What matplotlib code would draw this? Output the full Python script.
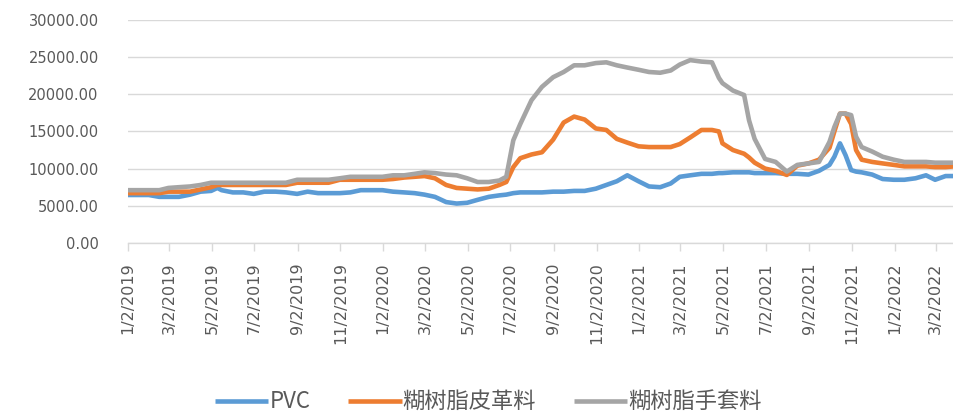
import numpy as np
import pandas as pd
import matplotlib
matplotlib.use("Agg")
import matplotlib.pyplot as plt
from matplotlib import font_manager

# datos
fechas = ["2019-01-02", "2019-01-16", "2019-02-01", "2019-02-16", "2019-03-01", "2019-03-16",
          "2019-04-01", "2019-04-16", "2019-05-01", "2019-05-10", "2019-05-16", "2019-06-01",
          "2019-06-16", "2019-07-01", "2019-07-16", "2019-08-01", "2019-08-16", "2019-09-01",
          "2019-09-16", "2019-10-01", "2019-10-16", "2019-11-01", "2019-11-16", "2019-12-01",
          "2019-12-16", "2020-01-01", "2020-01-16", "2020-02-01", "2020-02-16", "2020-03-01",
          "2020-03-16", "2020-04-01", "2020-04-16", "2020-05-01", "2020-05-16", "2020-06-01",
          "2020-06-16", "2020-06-26", "2020-07-06", "2020-07-16", "2020-08-01", "2020-08-16",
          "2020-09-01", "2020-09-16", "2020-10-01", "2020-10-16", "2020-11-01", "2020-11-16",
          "2020-12-01", "2020-12-16", "2021-01-01", "2021-01-16", "2021-02-01", "2021-02-16",
          "2021-03-01", "2021-03-16", "2021-04-01", "2021-04-16", "2021-04-26", "2021-05-01",
          "2021-05-16", "2021-06-01", "2021-06-08", "2021-06-16", "2021-07-01", "2021-07-16",
          "2021-08-01", "2021-08-16", "2021-09-01", "2021-09-16", "2021-10-01", "2021-10-08",
          "2021-10-16", "2021-10-24", "2021-11-01", "2021-11-08", "2021-11-16", "2021-12-01",
          "2021-12-16", "2022-01-01", "2022-01-16", "2022-02-01", "2022-02-16", "2022-03-01",
          "2022-03-16", "2022-03-28"]

pvc = [6450, 6450, 6450, 6200, 6200, 6200, 6500, 6900, 7000, 7400, 7100, 6800,
       6800, 6600, 6900, 6900, 6800, 6600, 6900, 6700, 6700, 6700, 6800, 7100,
       7100, 7100, 6900, 6800, 6700, 6500, 6200, 5500, 5300, 5400, 5800, 6200,
       6400, 6500, 6700, 6800, 6800, 6800, 6900, 6900, 7000, 7000, 7300, 7800,
       8300, 9100, 8300, 7600, 7500, 8000, 8900, 9100, 9300, 9300, 9400, 9400,
       9500, 9500, 9500, 9400, 9400, 9400, 9300, 9300, 9200, 9700, 10500, 11600,
       13400, 11800, 9800, 9600, 9500, 9200, 8600, 8500, 8500, 8700, 9100, 8500,
       9000, 9000]

piel = [6700, 6700, 6700, 6700, 6900, 6900, 6900, 7200, 7500, 7800, 7800, 7800,
        7800, 7800, 7800, 7800, 7800, 8100, 8100, 8100, 8100, 8500, 8500, 8500,
        8500, 8500, 8600, 8800, 8900, 9000, 8700, 7800, 7400, 7300, 7200, 7300,
        7800, 8200, 10200, 11400, 11900, 12200, 13900, 16200, 17000, 16600, 15400, 15200,
        14000, 13500, 13000, 12900, 12900, 12900, 13300, 14200, 15200, 15200, 15000, 13400,
        12500, 12000, 11500, 10800, 10000, 9700, 9150, 10400, 10700, 11200, 12800, 15000,
        17400, 17400, 16000, 12500, 11200, 10900, 10700, 10500, 10300, 10300, 10300, 10200,
        10200, 10300]

guante = [7100, 7100, 7100, 7100, 7400, 7500, 7600, 7800, 8100, 8100, 8100, 8100,
          8100, 8100, 8100, 8100, 8100, 8500, 8500, 8500, 8500, 8700, 8900, 8900,
          8900, 8900, 9100, 9100, 9300, 9500, 9400, 9200, 9100, 8700, 8200, 8200,
          8400, 8900, 13800, 16000, 19200, 21000, 22300, 23000, 23900, 23900, 24200, 24300,
          23900, 23600, 23300, 23000, 22900, 23200, 24000, 24600, 24400, 24300, 22200, 21500,
          20500, 19900, 16500, 14000, 11300, 10900, 9600, 10500, 10700, 10900, 13600, 15600,
          17400, 17400, 17200, 14300, 12900, 12300, 11600, 11200, 10900, 10900, 10900, 10800,
          10800, 10800]

nombres = ["PVC", "糊树脂皮革料", "糊树脂手套料"]
colores = ["#5B9BD5", "#ED7D31", "#A5A5A5"]

ticks_x = ["2019-01-02", "2019-03-02", "2019-05-02", "2019-07-02", "2019-09-02", "2019-11-02",
           "2020-01-02", "2020-03-02", "2020-05-02", "2020-07-02", "2020-09-02", "2020-11-02",
           "2021-01-02", "2021-03-02", "2021-05-02", "2021-07-02", "2021-09-02", "2021-11-02",
           "2022-01-02", "2022-03-02"]
ticks_y = [0, 5000, 10000, 15000, 20000, 25000, 30000]

x = pd.to_datetime(fechas)
tx = pd.to_datetime(ticks_x)

# fuente estrecha para el eje y si existe
nombres_fuentes = {f.name for f in font_manager.fontManager.ttflist}
if "Liberation Sans Narrow" in nombres_fuentes:
    fuente_y, tam_y = "Liberation Sans Narrow", 14
else:
    fuente_y, tam_y = "DejaVu Sans", 10.5

fig = plt.figure(figsize=(9.54, 4.16), dpi=100)
ax = fig.add_axes([0.134, 0.416, 0.866, 0.536])

for serie, nombre, color in zip([pvc, piel, guante], nombres, colores):
    ax.plot(x, serie, color=color, lw=3.3, label=nombre, solid_capstyle="butt")

ax.set_xlim(x[0], x[-1])
ax.set_ylim(0, 30000)

# cuadricula
ax.set_yticks(ticks_y)
ax.grid(axis="y", color="#D9D9D9", lw=1)
ax.set_axisbelow(True)
for s in ["top", "right", "left"]:
    ax.spines[s].set_visible(False)
ax.spines["bottom"].set_color("#D9D9D9")
ax.spines["bottom"].set_linewidth(1)

ax.set_yticklabels([f"{v:.2f}" for v in ticks_y], family=fuente_y, fontsize=tam_y, color="#595959")
ax.tick_params(axis="y", length=0, pad=21)

ax.set_xticks(tx)
ax.set_xticklabels([f"{d.month}/{d.day}/{d.year}" for d in tx], rotation=90,
                   fontsize=11.5, color="#595959")
ax.tick_params(axis="x", length=6, color="#D9D9D9", width=1, pad=8)

fig.legend(loc="center", bbox_to_anchor=(0.512, 0.034), ncol=3, frameon=False,
           prop={"family": ["Noto Sans CJK SC", "DejaVu Sans"], "size": 16},
           handlelength=2.4, handletextpad=0.05, columnspacing=1.7, labelcolor="#595959")

#guardar grafica
fig.savefig("out.png", dpi=100)
